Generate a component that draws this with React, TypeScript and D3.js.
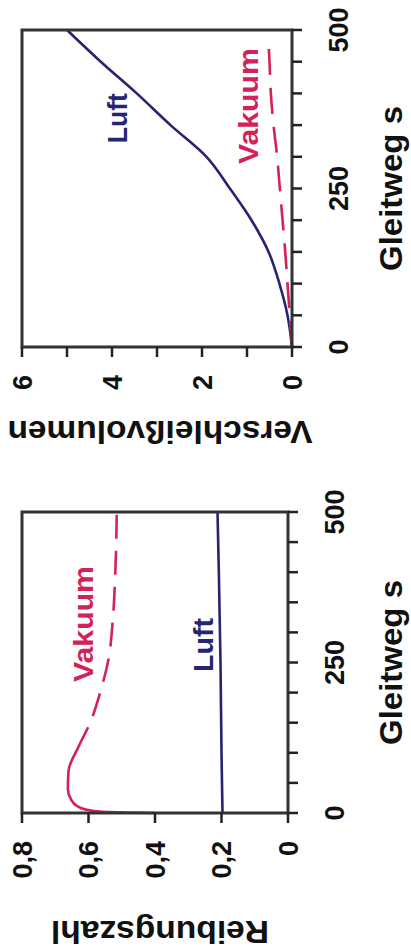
import React from 'react';
import * as d3 from 'd3';

// Reibungszahl (friction coefficient) over Gleitweg s
const frictionVakuumS = [0, 2, 6, 12, 22, 40, 70, 110, 150, 200, 255, 320, 390, 500];
const frictionVakuum = [0.40, 0.56, 0.61, 0.635, 0.652, 0.662, 0.66, 0.63, 0.595, 0.565, 0.54, 0.527, 0.52, 0.515];
const frictionLuftS = [0, 100, 250, 400, 500];
const frictionLuft = [0.197, 0.2, 0.203, 0.208, 0.212];

// Verschleissvolumen (wear volume) over Gleitweg s
const wearLuftS = [0, 50, 100, 150, 200, 250, 300, 350, 400, 450, 500];
const wearLuft = [0, 0.1, 0.28, 0.52, 0.9, 1.38, 1.9, 2.7, 3.45, 4.25, 5.0];
const wearVakuumS = [0, 50, 100, 150, 200, 250, 300, 350, 400, 450, 490];
const wearVakuum = [0, 0.05, 0.1, 0.15, 0.21, 0.27, 0.33, 0.41, 0.47, 0.5, 0.53];

const sTicks = [0, 50, 100, 150, 200, 250, 300, 350, 400, 450, 500];
const sTickLabels = [0, 250, 500];
const frictionTicks = [0, 0.2, 0.4, 0.6, 0.8];
const frictionTickLabels = [0, 0.2, 0.4, 0.6, 0.8];
const wearTicks = [0, 1, 2, 3, 4, 5, 6];
const wearTickLabels = [0, 2, 4, 6];

const RED = '#d3225a';
const NAVY = '#272470';
const AXIS = '#333333';
const FONT = "'Liberation Sans', Arial, sans-serif";

const de = d3.formatLocale({ decimal: ',', thousands: '.', grouping: [3], currency: ['', '€'] });
const fmt = de.format('~g');

type Series = { s: number[]; v: number[]; color: string; dash?: string };
type Label = { text: string; s: number; v: number; color: string; len: number };

function Panel(props: {
  x: d3.ScaleLinear<number, number>;
  y: d3.ScaleLinear<number, number>;
  yTicks: number[];
  yTickLabels: number[];
  yTitle: string;
  yTitleX: number;
  yTitleLen: number;
  series: Series[];
  labels: Label[];
}) {
  const { x, y } = props;
  const [x0, x1] = x.range();
  const [y0, y1] = y.range();
  const line = d3.line<[number, number]>()
    .x(d => x(d[0]))
    .y(d => y(d[1]))
    .curve(d3.curveMonotoneX);
  return (
    <g>
      {props.series.map((sr, i) => (
        <path key={i}
          d={line(sr.s.map((s, j) => [s, sr.v[j]] as [number, number])) || ''}
          fill="none" stroke={sr.color} strokeWidth={2.6}
          strokeDasharray={sr.dash} />
      ))}
      <rect x={x0} y={y1} width={x1 - x0} height={y0 - y1}
        fill="none" stroke={AXIS} strokeWidth={3} />
      {sTicks.map(t => (
        <line key={'xt' + t} x1={x(t)} x2={x(t)} y1={y0} y2={y0 + 10}
          stroke="#222" strokeWidth={2.5} />
      ))}
      {sTickLabels.map(t => (
        <text key={'xl' + t} x={x(t)} y={y0 + 56} textAnchor="middle"
          fontSize={27} fontWeight="bold" fill="#111">{t}</text>
      ))}
      {props.yTicks.map(t => (
        <line key={'yt' + t} x1={x0 - 10} x2={x0} y1={y(t)} y2={y(t)}
          stroke="#222" strokeWidth={2.5} />
      ))}
      {props.yTickLabels.map(t => (
        <text key={'yl' + t} x={x0 - 28} y={y(t)} dy="0.36em" textAnchor="end"
          fontSize={27} fontWeight="bold" fill="#111">{fmt(t)}</text>
      ))}
      <text x={(x0 + x1) / 2} y={402} textAnchor="middle" fontSize={31}
        fontWeight="bold" fill="#111" textLength={165}
        lengthAdjust="spacingAndGlyphs">Gleitweg s</text>
      <text transform={`translate(${props.yTitleX},160) rotate(-90)`}
        textAnchor="middle" fontSize={31} fontWeight="bold" fill="#111"
        textLength={props.yTitleLen} lengthAdjust="spacingAndGlyphs">{props.yTitle}</text>
      {props.labels.map(l => (
        <text key={l.text} x={x(l.s)} y={y(l.v)} textAnchor="middle"
          fontSize={28} fontWeight="bold" fill={l.color}
          textLength={l.len} lengthAdjust="spacingAndGlyphs">{l.text}</text>
      ))}
    </g>
  );
}

export default function App() {
  const xL = d3.scaleLinear().domain([0, 500]).range([136, 437]);
  const yL = d3.scaleLinear().domain([0, 0.8]).range([288, 22]);
  const xR = d3.scaleLinear().domain([0, 500]).range([602, 919]);
  const yR = d3.scaleLinear().domain([0, 6]).range([292, 22]);

  // first stretch drawn solid, then regular dashes
  const vakDash = '165 12 ' + Array(20).fill('24 12').join(' ');

  return (
    <svg width={411} height={949}
      style={{ position: 'absolute', left: 0, top: 0, background: '#fff', fontFamily: FONT }}>
      <g transform="translate(0,949) rotate(-90)">
        <Panel x={xL} y={yL}
          yTicks={frictionTicks} yTickLabels={frictionTickLabels}
          yTitle="Reibungszahl" yTitleX={28} yTitleLen={218}
          series={[
            { s: frictionLuftS, v: frictionLuft, color: NAVY },
            { s: frictionVakuumS, v: frictionVakuum, color: RED, dash: vakDash },
          ]}
          labels={[
            { text: 'Vakuum', s: 314, v: 0.586, color: RED, len: 116 },
            { text: 'Luft', s: 279, v: 0.226, color: NAVY, len: 54 },
          ]} />
        <Panel x={xR} y={yR}
          yTicks={wearTicks} yTickLabels={wearTickLabels}
          yTitle="Verschleißvolumen" yTitleX={528} yTitleLen={305}
          series={[
            { s: wearLuftS, v: wearLuft, color: NAVY },
            { s: wearVakuumS, v: wearVakuum, color: RED, dash: '26 13' },
          ]}
          labels={[
            { text: 'Luft', s: 361, v: 3.67, color: NAVY, len: 50 },
            { text: 'Vakuum', s: 380, v: 0.76, color: RED, len: 116 },
          ]} />
      </g>
    </svg>
  );
}
